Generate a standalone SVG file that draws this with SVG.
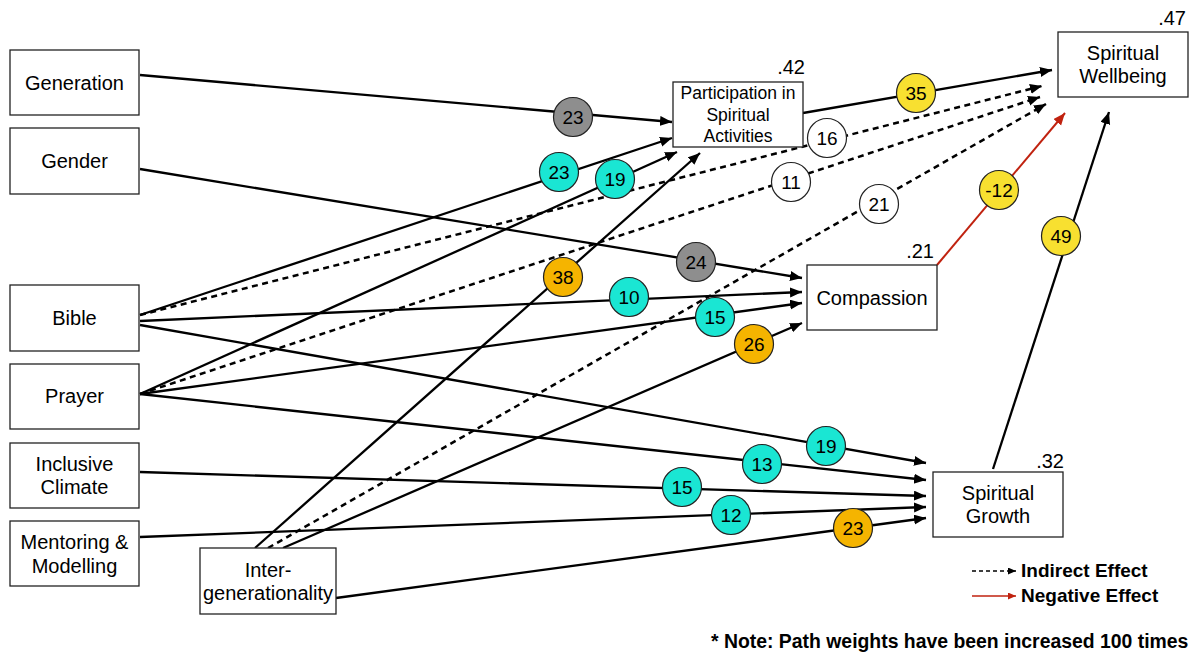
<svg xmlns="http://www.w3.org/2000/svg" width="1194" height="657" viewBox="0 0 1194 657">
<defs>
<marker id="ah" markerUnits="userSpaceOnUse" markerWidth="13" markerHeight="11" refX="12" refY="5" orient="auto"><path d="M0,0 L12,5 L0,10 z" fill="#000"/></marker>
<marker id="ahr" markerUnits="userSpaceOnUse" markerWidth="13" markerHeight="11" refX="12" refY="5" orient="auto"><path d="M0,0 L12,5 L0,10 z" fill="#c0220f"/></marker>
<marker id="ahs" markerUnits="userSpaceOnUse" markerWidth="9" markerHeight="8" refX="8" refY="3.5" orient="auto"><path d="M0,0 L8,3.5 L0,7 z" fill="#000"/></marker>
<marker id="ahsr" markerUnits="userSpaceOnUse" markerWidth="9" markerHeight="8" refX="8" refY="3.5" orient="auto"><path d="M0,0 L8,3.5 L0,7 z" fill="#c0220f"/></marker>
</defs>
<style>
.box{fill:#fff;stroke:#222;stroke-width:1.3}
.lbl{font-family:"Liberation Sans",Arial,sans-serif;font-size:20px;fill:#000;text-anchor:middle}
.plbl{font-family:"Liberation Sans",Arial,sans-serif;font-size:17.5px;fill:#000;text-anchor:middle}
.r2{font-family:"Liberation Sans",Arial,sans-serif;font-size:20px;fill:#000;text-anchor:end}
.e{fill:none;stroke:#000;stroke-width:2.3;marker-end:url(#ah)}
.d{fill:none;stroke:#000;stroke-width:2.5;stroke-dasharray:6 4.5;marker-end:url(#ah)}
.neg{fill:none;stroke:#c0220f;stroke-width:2;marker-end:url(#ahr)}
.c{stroke:#222;stroke-width:1.2}
.gray{fill:#8e8e8e}.teal{fill:#1ae6d3}.orange{fill:#f5b400}.yellow{fill:#f8e030}.white{fill:#fff}
.w{font-family:"Liberation Sans",Arial,sans-serif;font-size:19px;fill:#000;text-anchor:middle}
.leg{font-family:"Liberation Sans",Arial,sans-serif;font-size:19px;font-weight:bold;fill:#000}
</style>
<rect width="1194" height="657" fill="#fff"/>
<g id="connectors">
<line class="e" x1="140" y1="75" x2="672" y2="122"/>
<line class="e" x1="140" y1="169" x2="802" y2="278"/>
<line class="e" x1="140" y1="315" x2="672" y2="138"/>
<line class="d" x1="140" y1="315" x2="1042" y2="86"/>
<line class="e" x1="140" y1="321" x2="802" y2="292"/>
<line class="e" x1="140" y1="325" x2="926" y2="463"/>
<line class="e" x1="140" y1="394" x2="677" y2="152"/>
<line class="d" x1="140" y1="394" x2="1040" y2="97"/>
<line class="e" x1="140" y1="394" x2="802" y2="303"/>
<line class="e" x1="140" y1="394" x2="926" y2="480"/>
<line class="e" x1="140" y1="472" x2="926" y2="496"/>
<line class="e" x1="140" y1="537" x2="926" y2="507"/>
<line class="e" x1="255" y1="548" x2="700" y2="153"/>
<line class="d" x1="268" y1="548" x2="1046" y2="104"/>
<line class="e" x1="283" y1="548" x2="802" y2="323"/>
<line class="e" x1="336" y1="598" x2="926" y2="518"/>
<line class="e" x1="803" y1="113" x2="1052" y2="70"/>
<line class="neg" x1="937" y1="265" x2="1065" y2="113"/>
<line class="e" x1="993" y1="469" x2="1109" y2="112"/>
</g>
<g id="weights">
<circle class="c gray" cx="573" cy="117" r="19.5"/><text class="w" x="573" y="123.5">23</text>
<circle class="c teal" cx="559" cy="172" r="19.5"/><text class="w" x="559" y="178.5">23</text>
<circle class="c teal" cx="615" cy="179" r="19.5"/><text class="w" x="615" y="185.5">19</text>
<circle class="c white" cx="827" cy="138" r="19.5"/><text class="w" x="827" y="144.5">16</text>
<circle class="c white" cx="791" cy="182" r="19.5"/><text class="w" x="791" y="188.5">11</text>
<circle class="c white" cx="879" cy="204" r="19.5"/><text class="w" x="879" y="210.5">21</text>
<circle class="c yellow" cx="916" cy="93" r="19.5"/><text class="w" x="916" y="99.5">35</text>
<circle class="c yellow" cx="999" cy="190" r="19.5"/><text class="w" x="999" y="196.5">-12</text>
<circle class="c yellow" cx="1061" cy="236" r="19.5"/><text class="w" x="1061" y="242.5">49</text>
<circle class="c gray" cx="696" cy="262" r="19.5"/><text class="w" x="696" y="268.5">24</text>
<circle class="c orange" cx="563" cy="277" r="19.5"/><text class="w" x="563" y="283.5">38</text>
<circle class="c teal" cx="629" cy="297" r="19.5"/><text class="w" x="629" y="303.5">10</text>
<circle class="c teal" cx="715" cy="317" r="19.5"/><text class="w" x="715" y="323.5">15</text>
<circle class="c orange" cx="754" cy="344" r="19.5"/><text class="w" x="754" y="350.5">26</text>
<circle class="c teal" cx="826" cy="446" r="19.5"/><text class="w" x="826" y="452.5">19</text>
<circle class="c teal" cx="762" cy="464" r="19.5"/><text class="w" x="762" y="470.5">13</text>
<circle class="c teal" cx="682" cy="487" r="19.5"/><text class="w" x="682" y="493.5">15</text>
<circle class="c teal" cx="731" cy="515" r="19.5"/><text class="w" x="731" y="521.5">12</text>
<circle class="c orange" cx="853" cy="528" r="19.5"/><text class="w" x="853" y="534.5">23</text>
</g>
<g id="generation"><rect class="box" x="10" y="50" width="129" height="65"/><text class="lbl" x="74.5" y="90">Generation</text></g>
<g id="gender"><rect class="box" x="10" y="128" width="129" height="66"/><text class="lbl" x="74.5" y="168">Gender</text></g>
<g id="bible"><rect class="box" x="10" y="285" width="129" height="66"/><text class="lbl" x="74.5" y="325">Bible</text></g>
<g id="prayer"><rect class="box" x="10" y="364" width="129" height="65"/><text class="lbl" x="74.5" y="403">Prayer</text></g>
<g id="inclusive"><rect class="box" x="10" y="443" width="129" height="65"/><text class="lbl" x="74.5" y="471">Inclusive</text><text class="lbl" x="74.5" y="494">Climate</text></g>
<g id="mentoring"><rect class="box" x="10" y="521" width="129" height="65"/><text class="lbl" x="74.5" y="549">Mentoring &amp;</text><text class="lbl" x="74.5" y="573">Modelling</text></g>
<g id="intergen"><rect class="box" x="200" y="548" width="136" height="66"/><text class="lbl" x="268" y="577">Inter-</text><text class="lbl" x="268" y="600">generationality</text></g>
<g id="participation"><rect class="box" x="673" y="82" width="130" height="65"/><text class="plbl" x="738" y="99">Participation in</text><text class="plbl" x="738" y="121">Spiritual</text><text class="plbl" x="738" y="142">Activities</text><text class="r2" x="805" y="74">.42</text></g>
<g id="wellbeing"><rect class="box" x="1058" y="32" width="130" height="65"/><text class="lbl" x="1123" y="60">Spiritual</text><text class="lbl" x="1123" y="83">Wellbeing</text><text class="r2" x="1186" y="25">.47</text></g>
<g id="compassion"><rect class="box" x="807" y="265" width="130" height="65"/><text class="lbl" x="872" y="305">Compassion</text><text class="r2" x="934" y="258">.21</text></g>
<g id="growth"><rect class="box" x="933" y="472" width="130" height="65"/><text class="lbl" x="998" y="500">Spiritual</text><text class="lbl" x="998" y="523">Growth</text><text class="r2" x="1064" y="468">.32</text></g>
<g id="legend">
<line x1="972" y1="571" x2="1016" y2="571" stroke="#000" stroke-width="1.6" stroke-dasharray="4 3" marker-end="url(#ahs)"/>
<text class="leg" x="1021" y="577">Indirect Effect</text>
<line x1="972" y1="596" x2="1016" y2="596" stroke="#c0220f" stroke-width="1.6" marker-end="url(#ahsr)"/>
<text class="leg" x="1021" y="602">Negative Effect</text>
<text class="leg" x="711" y="648" style="font-size:19.4px">* Note: Path weights have been increased 100 times</text>
</g>
</svg>
